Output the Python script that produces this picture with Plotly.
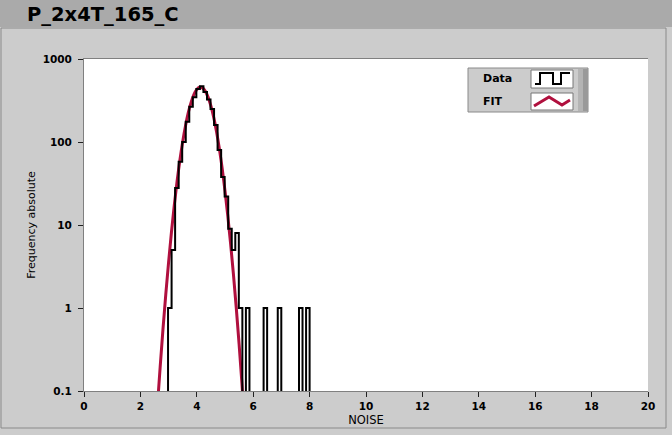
import plotly.graph_objects as go

# ---------------- data ----------------
chart_title = "P_2x4T_165_C"
x_title = "NOISE"
y_title = "Frequency absolute"

bin_edges = [2.980, 3.106, 3.231, 3.357, 3.482, 3.608, 3.733, 3.859, 3.984, 4.110,
             4.235, 4.361, 4.486, 4.612, 4.737, 4.863, 4.988, 5.114, 5.239, 5.365,
             5.490, 5.616, 5.741, 5.867, 5.992, 6.118, 6.243, 6.369, 6.494, 6.620,
             6.745, 6.871, 6.996, 7.122, 7.247, 7.373, 7.498, 7.624, 7.749, 7.875,
             8.000]
data_counts = [1, 5, 28, 58, 100, 175, 265, 345, 435, 470,
               400, 325, 250, 160, 80, 38, 22, 9, 5, 8,
               1, 0, 1, 0, 0, 0, 0, 1, 0, 0,
               0, 1, 0, 0, 0, 0, 0, 1, 0, 1]

fit_x = [2.6, 2.7, 2.8, 2.9, 3.0, 3.1, 3.2, 3.3, 3.4, 3.5, 3.6, 3.7, 3.8, 3.9, 4.0, 4.1,
         4.2, 4.3, 4.4, 4.5, 4.6, 4.7, 4.8, 4.9, 5.0, 5.1, 5.2, 5.3, 5.4, 5.5, 5.6, 5.7]
fit_y = [0.063, 0.193, 0.551, 1.46, 3.57, 8.12, 17.1, 33.4, 60.4, 101, 157, 227, 302, 374, 429, 456,
         449, 410, 347, 272, 198, 133, 83, 48.1, 25.8, 12.8, 5.9, 2.52, 1.0, 0.366, 0.124, 0.039]

y_tickvals = [0.1, 1, 10, 100, 1000]
y_ticktext = ["0.1", "1", "10", "100", "1000"]
x_tickvals = [0, 2, 4, 6, 8, 10, 12, 14, 16, 18, 20]
legend_names = ["Data", "FIT"]

# ---------------- figure ----------------
W, H = 672, 435
L, R, T, B = 84, 648, 59, 391  # plot area in pixels

def px(x):
    return (x - L) / (R - L)

def py(y):
    return (B - y) / (B - T)

FLOOR = 1e-3  # empty bins drawn down past the bottom of the log axis
step_x = [bin_edges[0]] + bin_edges
step_y = [FLOOR] + [c if c > 0 else FLOOR for c in data_counts] + [FLOOR]

fit_color = "#b0103e"

fig = go.Figure()
fig.add_trace(go.Scatter(x=fit_x, y=fit_y, mode="lines", name=legend_names[1],
                         line=dict(color=fit_color, width=3, shape="spline"),
                         showlegend=False, hoverinfo="skip"))
fig.add_trace(go.Scatter(x=step_x, y=step_y, mode="lines", name=legend_names[0],
                         line=dict(color="black", width=2, shape="hv"),
                         showlegend=False, hoverinfo="skip"))

font_family = "DejaVu Sans"

fig.update_layout(
    width=W, height=H,
    margin=dict(l=L, r=W - R, t=T, b=H - B, autoexpand=False),
    paper_bgcolor="#cccccc",
    plot_bgcolor="white",
    showlegend=False,
    font=dict(family=font_family, color="black", size=11),
)

fig.update_xaxes(
    range=[0, 20], tickvals=x_tickvals, ticks="outside", ticklen=5, tickwidth=1,
    tickcolor="#222222", showgrid=False, zeroline=False,
    showline=True, linecolor="#808080", linewidth=1, mirror=True,
    tickfont=dict(family=font_family, size=10.5, weight="bold"),
    title=dict(text=x_title, font=dict(family=font_family, size=11.5), standoff=5),
)
fig.update_yaxes(
    type="log", range=[-1, 3], tickvals=y_tickvals, ticktext=y_ticktext,
    ticks="outside", ticklen=5, tickwidth=1, tickcolor="#222222",
    showgrid=False, zeroline=False, showline=True, linecolor="#808080", linewidth=1,
    tickfont=dict(family=font_family, size=10.5, weight="bold"),
    ticklabelstandoff=4,
    title=dict(text=y_title, font=dict(family=font_family, size=11), standoff=4),
)

shapes = []
# title bar
shapes.append(dict(type="rect", xref="paper", yref="paper", layer="below",
                   x0=px(0), x1=px(W), y0=py(27), y1=py(0),
                   fillcolor="#aaaaaa", line=dict(width=0)))
# panel frame
shapes.append(dict(type="rect", xref="paper", yref="paper", layer="below",
                   x0=px(1), x1=px(666), y0=py(428), y1=py(28),
                   fillcolor="rgba(0,0,0,0)", line=dict(color="#8a8a8a", width=1)))
# legend box
shapes.append(dict(type="rect", xref="paper", yref="paper",
                   x0=px(468), x1=px(588), y0=py(112), y1=py(68),
                   fillcolor="#cccccc", line=dict(color="#8a8a8a", width=1)))
shapes.append(dict(type="rect", xref="paper", yref="paper",
                   x0=px(578), x1=px(583), y0=py(111), y1=py(69),
                   fillcolor="#b4b4b4", line=dict(width=0)))
shapes.append(dict(type="rect", xref="paper", yref="paper",
                   x0=px(583), x1=px(588), y0=py(111), y1=py(69),
                   fillcolor="#9a9a9a", line=dict(width=0)))
# swatches
for (y0, y1) in [(70, 88), (93, 110)]:
    shapes.append(dict(type="rect", xref="paper", yref="paper",
                       x0=px(531), x1=px(573), y0=py(y1), y1=py(y0),
                       fillcolor="white", line=dict(color="#777777", width=1)))

def path(points):
    return "M" + " L".join(f"{px(a):.5f},{py(b):.5f}" for a, b in points)

shapes.append(dict(type="path", xref="paper", yref="paper",
                   path=path([(535, 84), (540, 84), (540, 73), (553, 73), (553, 84),
                              (561, 84), (561, 73), (570, 73)]),
                   line=dict(color="black", width=2)))
shapes.append(dict(type="path", xref="paper", yref="paper",
                   path=path([(534, 106), (549, 97), (562, 105), (570, 100)]),
                   line=dict(color=fit_color, width=3)))
fig.update_layout(shapes=shapes)

annotations = [
    dict(text=chart_title, xref="paper", yref="paper", x=px(25), y=py(14),
         xanchor="left", yanchor="middle", showarrow=False,
         font=dict(family=font_family, size=19.5, weight="bold", color="black")),
    dict(text=legend_names[0], xref="paper", yref="paper", x=px(481), y=py(79),
         xanchor="left", yanchor="middle", showarrow=False,
         font=dict(family=font_family, size=11, weight="bold")),
    dict(text=legend_names[1], xref="paper", yref="paper", x=px(481), y=py(101),
         xanchor="left", yanchor="middle", showarrow=False,
         font=dict(family=font_family, size=11, weight="bold")),
]
fig.update_layout(annotations=annotations)

fig.write_html(
    "out.html",
    config={"displayModeBar": False},
    post_script="document.body.style.margin='0px';document.body.style.overflow='hidden';",
)
